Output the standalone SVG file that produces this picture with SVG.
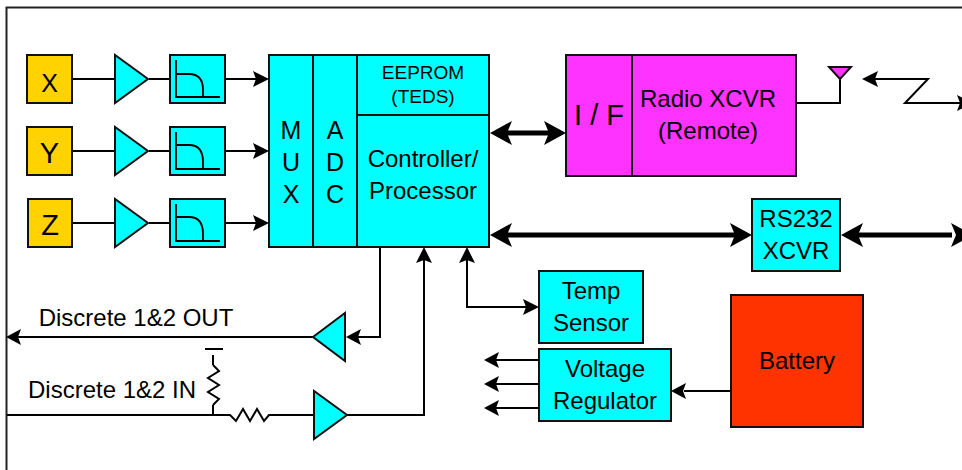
<svg xmlns="http://www.w3.org/2000/svg" width="962" height="470" viewBox="0 0 962 470">
<style>
text{font-family:"Liberation Sans",Arial,sans-serif;fill:#000;text-anchor:middle}
.b{stroke:#111;stroke-width:2}
.c{fill:#00ffff}.y{fill:#ffd200}.m{fill:#ff33ff}.r{fill:#ff3300}
.l{fill:none;stroke:#000;stroke-width:2}
.t{fill:none;stroke:#000;stroke-width:5}
.f{fill:none;stroke:#000;stroke-width:1.800}
.h{fill:#000}
</style>
<rect x="0" y="0" width="962" height="470" fill="#fff"/>
<path d="M6.500 470V7.500H962" fill="none" stroke="#222" stroke-width="2"/>
<g id="connectors">
<path class="l" d="M72 79H115M149 79H170M225 79H258M72 151H115M149 151H170M225 151H258M72 223H115M149 223H170M225 223H258"/>
<path class="l" d="M380 248V337H358M313 337H18"/>
<path class="l" d="M7 415H213V405M213 365V355M205 349H223M213 415H230L236 421L243 409L250 421L257 409L264 421L269 415H313M347 415H424V258"/>
<path class="l" d="M467 258V307H528"/>
<path class="l" d="M539 360H496M539 384H496M539 408H496M731 391H684"/>
<path class="t" d="M502 133H554M502 235H740M853 235H952"/>
<path class="l" d="M797 103H840V78M874 79H928L905 103H960"/>
<g class="h">
<path d="M269 79L253 71L256 79L253 87ZM269 151L253 143L256 151L253 159ZM269 223L253 215L256 223L253 231Z"/>
<path d="M6 337L21 329L18 337L21 345ZM346 337L361 329L358 337L361 345Z"/>
<path d="M424 247L416 263L424 260L432 263ZM467 247L459 263L467 260L475 263ZM539 307L523 299L526 307L523 315Z"/>
<path d="M484 360L499 352L496 360L499 368ZM484 384L499 376L496 384L499 392ZM484 408L499 400L496 408L499 416ZM671 391L686 383L683 391L686 399Z"/>
<path d="M490 133L512 121L507 133L512 145ZM566 133L544 121L549 133L544 145ZM490 235L512 223L507 235L512 247ZM752 235L730 223L735 235L730 247ZM841 235L863 223L858 235L863 247ZM973 235L951 223L956 235L951 247Z"/>
<path d="M862 79L878 71L875 79L878 87ZM973 103L957 95L960 103L957 111Z"/>
</g>
</g>
<g id="sensor-x"><rect class="b y" x="27" y="55" width="45" height="48"/><text x="49.500" y="92" font-size="25">X</text></g>
<g id="sensor-y"><rect class="b y" x="27" y="127" width="45" height="48"/><text x="49.500" y="163" font-size="29">Y</text></g>
<g id="sensor-z"><rect class="b y" x="28" y="199" width="44" height="48"/><text x="50" y="235" font-size="29">Z</text></g>
<g id="amp-x"><path class="b c" d="M115 55V103L148 79Z"/></g>
<g id="amp-y"><path class="b c" d="M115 127V175L148 151Z"/></g>
<g id="amp-z"><path class="b c" d="M115 199V247L148 223Z"/></g>
<g id="filter-x"><rect class="b c" x="170" y="55" width="55" height="48"/><path class="f" d="M176 60V97H220M176 74H189Q203 74 203 90V97"/></g>
<g id="filter-y"><rect class="b c" x="170" y="127" width="55" height="48"/><path class="f" d="M176 132V169H220M176 145H189Q203 145 203 162V169"/></g>
<g id="filter-z"><rect class="b c" x="170" y="199" width="55" height="48"/><path class="f" d="M176 204V241H220M176 217H189Q203 217 203 234V241"/></g>
<g id="mux"><rect class="b c" x="269" y="55" width="44" height="192"/><text font-size="25" x="291" y="139">M</text><text font-size="25" x="291" y="171">U</text><text font-size="25" x="291" y="203">X</text></g>
<g id="adc"><rect class="b c" x="313" y="55" width="44" height="192"/><text font-size="25" x="335" y="139">A</text><text font-size="25" x="335" y="171">D</text><text font-size="25" x="335" y="203">C</text></g>
<g id="eeprom"><rect class="b c" x="357" y="55" width="132" height="60"/><text font-size="19" x="423" y="79">EEPROM</text><text font-size="19" x="423" y="103">(TEDS)</text></g>
<g id="controller"><rect class="b c" x="357" y="115" width="132" height="132"/><text font-size="24" x="423" y="167">Controller/</text><text font-size="24" x="423" y="199">Processor</text></g>
<g id="if"><rect class="b m" x="566" y="55" width="66" height="121"/><text font-size="29" x="599" y="125">I / F</text></g>
<g id="radio"><rect class="b m" x="632" y="55" width="164" height="121"/><text font-size="24" x="708" y="107">Radio XCVR</text><text font-size="24" x="708" y="139">(Remote)</text></g>
<g id="antenna"><path d="M829 67H851L840 79Z" class="m" stroke="#111" stroke-width="2"/></g>
<g id="rs232"><rect class="b c" x="752" y="199" width="88" height="72"/><text font-size="24" x="796" y="227">RS232</text><text font-size="24" x="796" y="259">XCVR</text></g>
<g id="temp-sensor"><rect class="b c" x="539" y="271" width="104" height="72"/><text font-size="24" x="591" y="299">Temp</text><text font-size="24" x="591" y="331">Sensor</text></g>
<g id="voltage-regulator"><rect class="b c" x="539" y="349" width="132" height="72"/><text font-size="24" x="605" y="377">Voltage</text><text font-size="24" x="605" y="409">Regulator</text></g>
<g id="battery"><rect class="b r" x="731" y="295" width="132" height="132"/><text font-size="24" x="797" y="369">Battery</text></g>
<g id="amp-out"><path class="b c" d="M345 313V361L313 337Z"/></g>
<g id="amp-in"><path class="b c" d="M314 391V439L347 415Z"/></g>
<g id="pullup"><path class="l" d="M213 405L219 399L208 392L219 385L208 378L219 371L213 365"/></g>
<text font-size="24" x="136" y="326">Discrete 1&amp;2 OUT</text>
<text font-size="24" x="112" y="398">Discrete 1&amp;2 IN</text>
</svg>
